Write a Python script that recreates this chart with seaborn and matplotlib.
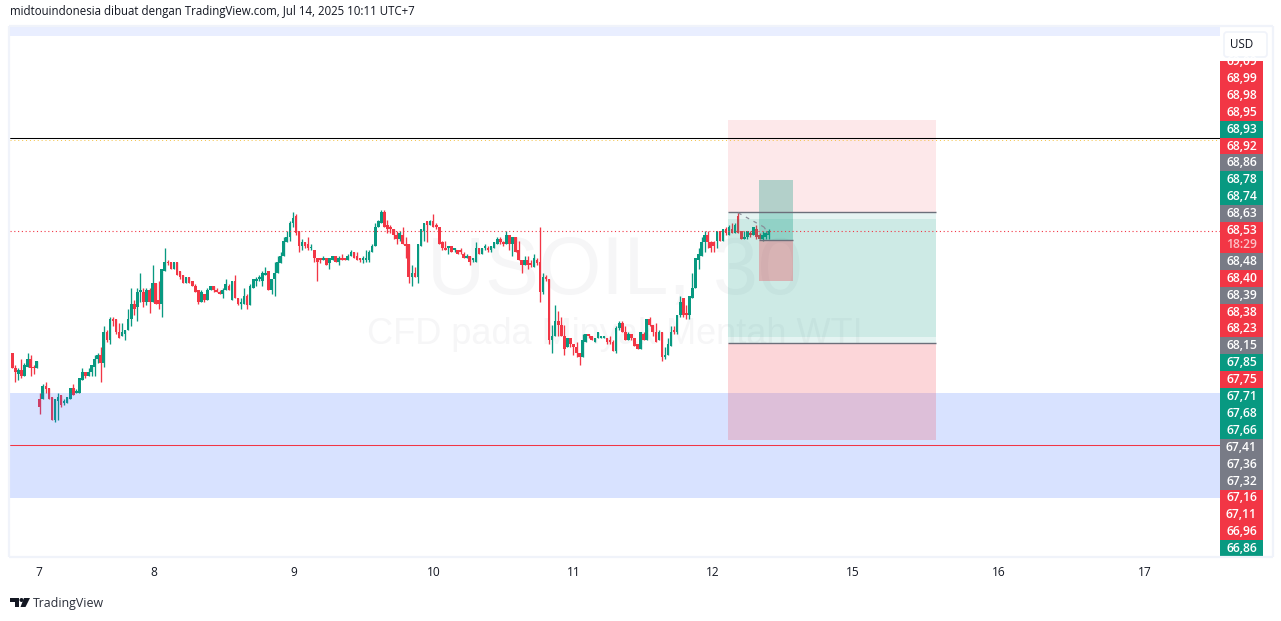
import numpy as np
import matplotlib
matplotlib.use('Agg')
import matplotlib.pyplot as plt
from matplotlib.patches import Rectangle, Polygon, FancyBboxPatch
import seaborn as sns

# ── Data: USOIL 30m candles ────────────────────────────────────────────────────
opens = [
    67.89, 67.81, 67.78, 67.80, 67.77, 67.82, 67.86, 67.82, 67.81, 67.65,
    67.65, 67.72, 67.71, 67.66, 67.54, 67.64, 67.67, 67.63, 67.63, 67.65,
    67.71, 67.68, 67.68, 67.75, 67.79, 67.77, 67.79, 67.82, 67.86, 67.88,
    67.84, 68.00, 67.96, 68.07, 68.07, 68.00, 67.98, 67.99, 68.01, 68.07,
    68.15, 68.13, 68.21, 68.21, 68.16, 68.22, 68.16, 68.26, 68.17, 68.15,
    68.32, 68.37, 68.37, 68.33, 68.37, 68.32, 68.30, 68.26, 68.29, 68.27,
    68.24, 68.22, 68.16, 68.20, 68.17, 68.22, 68.24, 68.22, 68.21, 68.20,
    68.22, 68.24, 68.17, 68.27, 68.18, 68.15, 68.15, 68.19, 68.14, 68.23,
    68.27, 68.28, 68.27, 68.30, 68.32, 68.22, 68.28, 68.31, 68.36, 68.40,
    68.47, 68.50, 68.57, 68.61, 68.53, 68.45, 68.47, 68.46, 68.44, 68.43,
    68.39, 68.39, 68.38, 68.39, 68.36, 68.38, 68.40, 68.37, 68.39, 68.39,
    68.38, 68.40, 68.42, 68.40, 68.39, 68.38, 68.38, 68.38, 68.42, 68.45,
    68.55, 68.57, 68.63, 68.56, 68.55, 68.54, 68.51, 68.49, 68.51, 68.46,
    68.46, 68.29, 68.31, 68.29, 68.45, 68.53, 68.58, 68.56, 68.58, 68.56,
    68.55, 68.47, 68.44, 68.44, 68.45, 68.43, 68.43, 68.43, 68.41, 68.39,
    68.40, 68.38, 68.37, 68.44, 68.41, 68.44, 68.44, 68.43, 68.44, 68.46,
    68.49, 68.47, 68.46, 68.51, 68.46, 68.50, 68.43, 68.38, 68.35, 68.38,
    68.36, 68.34, 68.38, 68.37, 68.21, 68.29, 68.28, 67.96, 67.98, 68.06,
    68.04, 67.98, 67.92, 67.97, 67.94, 67.92, 67.89, 67.87, 67.95, 67.99,
    67.98, 67.95, 67.97, 67.97, 67.97, 67.97, 67.96, 67.95, 67.90, 68.02,
    68.05, 68.00, 67.96, 67.99, 67.97, 67.94, 67.91, 67.99, 67.96, 68.07,
    68.04, 68.00, 67.96, 68.00, 67.87, 67.88, 67.93, 68.01, 68.00, 68.09,
    68.18, 68.10, 68.09, 68.18, 68.23, 68.38, 68.40, 68.47, 68.51, 68.47,
    68.47, 68.48, 68.53, 68.48, 68.54, 68.51, 68.54, 68.52, 68.61, 68.53,
    68.49, 68.50, 68.52, 68.51, 68.54, 68.51, 68.49, 68.50, 68.51,
]
highs = [
    67.89, 67.83, 67.81, 67.86, 67.84, 67.89, 67.88, 67.83, 67.85, 67.68,
    67.73, 67.74, 67.71, 67.66, 67.65, 67.68, 67.67, 67.65, 67.66, 67.71,
    67.73, 67.70, 67.76, 67.81, 67.79, 67.81, 67.83, 67.88, 67.89, 67.92,
    68.03, 68.01, 68.08, 68.08, 68.07, 68.05, 68.05, 68.01, 68.12, 68.23,
    68.17, 68.23, 68.31, 68.23, 68.23, 68.23, 68.35, 68.26, 68.27, 68.33,
    68.44, 68.38, 68.37, 68.37, 68.37, 68.32, 68.30, 68.29, 68.29, 68.27,
    68.25, 68.22, 68.22, 68.20, 68.23, 68.24, 68.24, 68.23, 68.22, 68.23,
    68.28, 68.25, 68.27, 68.30, 68.18, 68.18, 68.23, 68.20, 68.25, 68.28,
    68.29, 68.30, 68.32, 68.34, 68.32, 68.28, 68.37, 68.40, 68.42, 68.50,
    68.53, 68.58, 68.63, 68.62, 68.53, 68.49, 68.47, 68.50, 68.46, 68.43,
    68.39, 68.39, 68.40, 68.39, 68.39, 68.40, 68.40, 68.40, 68.41, 68.39,
    68.41, 68.43, 68.42, 68.42, 68.39, 68.40, 68.43, 68.43, 68.46, 68.57,
    68.59, 68.64, 68.64, 68.59, 68.56, 68.54, 68.53, 68.53, 68.55, 68.50,
    68.46, 68.35, 68.34, 68.46, 68.54, 68.57, 68.58, 68.59, 68.62, 68.57,
    68.55, 68.48, 68.48, 68.45, 68.45, 68.44, 68.43, 68.44, 68.42, 68.41,
    68.40, 68.39, 68.47, 68.44, 68.44, 68.46, 68.45, 68.45, 68.47, 68.50,
    68.50, 68.48, 68.53, 68.51, 68.50, 68.50, 68.48, 68.38, 68.40, 68.40,
    68.38, 68.41, 68.39, 68.55, 68.31, 68.30, 68.28, 68.04, 68.14, 68.11,
    68.08, 68.04, 67.97, 67.97, 67.94, 67.95, 67.89, 67.99, 67.99, 67.99,
    67.98, 67.97, 68.00, 67.98, 67.98, 67.97, 67.98, 67.96, 68.03, 68.06,
    68.06, 68.03, 68.00, 67.99, 67.97, 67.94, 68.00, 68.00, 68.07, 68.08,
    68.04, 68.05, 68.01, 68.00, 67.92, 67.97, 68.03, 68.03, 68.09, 68.19,
    68.18, 68.14, 68.19, 68.31, 68.39, 68.44, 68.50, 68.53, 68.53, 68.48,
    68.48, 68.53, 68.53, 68.54, 68.55, 68.56, 68.57, 68.57, 68.63, 68.53,
    68.53, 68.53, 68.53, 68.55, 68.56, 68.52, 68.53, 68.53, 68.54,
]
lows = [
    67.81, 67.74, 67.75, 67.76, 67.77, 67.82, 67.77, 67.78, 67.81, 67.57,
    67.65, 67.68, 67.65, 67.54, 67.53, 67.54, 67.61, 67.62, 67.63, 67.65,
    67.67, 67.68, 67.68, 67.75, 67.76, 67.77, 67.77, 67.77, 67.84, 67.74,
    67.82, 67.95, 67.94, 68.03, 67.99, 67.97, 67.98, 67.96, 68.01, 68.03,
    68.09, 68.06, 68.16, 68.13, 68.14, 68.10, 68.16, 68.15, 68.12, 68.08,
    68.32, 68.35, 68.33, 68.33, 68.30, 68.28, 68.26, 68.26, 68.26, 68.24,
    68.21, 68.15, 68.16, 68.16, 68.17, 68.22, 68.21, 68.21, 68.20, 68.18,
    68.22, 68.22, 68.17, 68.18, 68.14, 68.12, 68.15, 68.12, 68.14, 68.23,
    68.24, 68.27, 68.24, 68.30, 68.22, 68.20, 68.19, 68.31, 68.36, 68.40,
    68.47, 68.48, 68.55, 68.51, 68.42, 68.43, 68.44, 68.43, 68.43, 68.37,
    68.27, 68.36, 68.38, 68.35, 68.33, 68.38, 68.37, 68.35, 68.38, 68.38,
    68.38, 68.40, 68.39, 68.38, 68.37, 68.36, 68.37, 68.37, 68.42, 68.45,
    68.55, 68.57, 68.55, 68.52, 68.52, 68.49, 68.46, 68.48, 68.46, 68.39,
    68.26, 68.24, 68.29, 68.26, 68.45, 68.48, 68.47, 68.56, 68.55, 68.54,
    68.46, 68.43, 68.43, 68.41, 68.42, 68.42, 68.41, 68.41, 68.39, 68.39,
    68.35, 68.37, 68.37, 68.41, 68.41, 68.43, 68.42, 68.42, 68.44, 68.46,
    68.46, 68.45, 68.46, 68.43, 68.40, 68.42, 68.38, 68.31, 68.35, 68.33,
    68.34, 68.34, 68.35, 68.16, 68.20, 68.27, 67.94, 67.89, 67.98, 67.98,
    67.98, 67.88, 67.92, 67.92, 67.88, 67.87, 67.83, 67.87, 67.95, 67.97,
    67.96, 67.95, 67.97, 67.97, 67.97, 67.94, 67.94, 67.90, 67.89, 68.01,
    68.00, 67.96, 67.96, 67.96, 67.93, 67.91, 67.91, 67.96, 67.96, 68.03,
    67.98, 67.95, 67.96, 67.85, 67.86, 67.88, 67.93, 67.99, 67.99, 68.08,
    68.08, 68.07, 68.07, 68.18, 68.23, 68.33, 68.40, 68.42, 68.44, 68.42,
    68.42, 68.44, 68.48, 68.48, 68.51, 68.51, 68.52, 68.52, 68.52, 68.49,
    68.49, 68.49, 68.50, 68.51, 68.49, 68.49, 68.48, 68.49, 68.49,
]
closes = [
    67.81, 67.79, 67.80, 67.77, 67.83, 67.86, 67.81, 67.81, 67.85, 67.61,
    67.72, 67.70, 67.65, 67.54, 67.65, 67.66, 67.62, 67.64, 67.66, 67.71,
    67.67, 67.69, 67.76, 67.79, 67.77, 67.79, 67.83, 67.86, 67.88, 67.84,
    68.00, 67.96, 68.07, 68.06, 68.00, 67.97, 68.00, 68.01, 68.07, 68.15,
    68.12, 68.21, 68.22, 68.16, 68.22, 68.16, 68.26, 68.15, 68.15, 68.33,
    68.37, 68.36, 68.33, 68.37, 68.30, 68.29, 68.26, 68.29, 68.26, 68.24,
    68.21, 68.16, 68.21, 68.17, 68.22, 68.24, 68.22, 68.21, 68.20, 68.22,
    68.25, 68.22, 68.27, 68.18, 68.15, 68.16, 68.19, 68.14, 68.24, 68.28,
    68.28, 68.28, 68.31, 68.31, 68.22, 68.28, 68.31, 68.37, 68.40, 68.48,
    68.50, 68.57, 68.60, 68.52, 68.45, 68.47, 68.45, 68.44, 68.44, 68.39,
    68.37, 68.38, 68.39, 68.35, 68.39, 68.40, 68.37, 68.39, 68.38, 68.38,
    68.40, 68.42, 68.39, 68.38, 68.38, 68.39, 68.39, 68.42, 68.45, 68.55,
    68.58, 68.63, 68.55, 68.54, 68.54, 68.51, 68.49, 68.52, 68.46, 68.45,
    68.29, 68.31, 68.29, 68.46, 68.54, 68.57, 68.56, 68.58, 68.55, 68.55,
    68.46, 68.44, 68.43, 68.45, 68.42, 68.44, 68.41, 68.42, 68.39, 68.40,
    68.37, 68.38, 68.44, 68.41, 68.44, 68.45, 68.43, 68.45, 68.47, 68.49,
    68.47, 68.46, 68.51, 68.46, 68.50, 68.42, 68.38, 68.35, 68.38, 68.35,
    68.35, 68.39, 68.36, 68.21, 68.29, 68.28, 67.96, 67.98, 68.06, 68.04,
    67.98, 67.91, 67.97, 67.94, 67.92, 67.89, 67.87, 67.96, 67.99, 67.98,
    67.96, 67.97, 68.00, 67.98, 67.98, 67.95, 67.95, 67.90, 68.02, 68.05,
    68.00, 67.96, 67.99, 67.97, 67.93, 67.91, 68.00, 67.96, 68.07, 68.04,
    68.00, 67.95, 68.00, 67.87, 67.88, 67.94, 68.00, 68.00, 68.09, 68.16,
    68.09, 68.09, 68.19, 68.23, 68.39, 68.41, 68.47, 68.51, 68.47, 68.44,
    68.45, 68.53, 68.48, 68.54, 68.52, 68.55, 68.52, 68.56, 68.52, 68.49,
    68.50, 68.53, 68.51, 68.55, 68.50, 68.49, 68.51, 68.52, 68.53,
]

# tick labels on the time axis and where they sit (candle index)
day_labels = ['7', '8', '9', '10', '11', '12', '15', '16', '17']
day_ticks = [8.75, 46.5, 92.4, 138.3, 184.2, 229.8, 275.7, 323.5, 371.4]

# stacked price badges on the right, top to bottom
badge_text = ['69,09', '68,99', '68,98', '68,95', '68,93', '68,92', '68,86', '68,78', '68,74', '68,63',
              '68,53', '68,48', '68,40', '68,39', '68,38', '68,23', '68,15', '67,85', '67,75', '67,71',
              '67,68', '67,66', '67,41', '67,36', '67,32', '67,16', '67,11', '66,96', '66,86']
badge_kind = ['r', 'r', 'r', 'r', 'g', 'r', 'n', 'g', 'g', 'n',
              'r', 'n', 'r', 'n', 'r', 'r', 'n', 'g', 'r', 'g',
              'g', 'g', 'n', 'n', 'n', 'r', 'r', 'r', 'g']

# drawing levels in price
last_price = 68.53
resistance = 69.017
support = 67.41
zone_low, zone_high = 67.132, 67.682

UP, DOWN, NEUTRAL = '#089981', '#f23645', '#787b86'
INK = '#131722'
FRAME = '#f0f3fa'
W, H = 1281, 621

# ── Style ──────────────────────────────────────────────────────────────────────
sns.set_theme(style='white')
plt.rcParams['font.family'] = ['Open Sans', 'DejaVu Sans']

fig = plt.figure(figsize=(W / 100, H / 100), dpi=100, facecolor='white')
ax = fig.add_axes([10 / W, (H - 556) / H, 1210 / W, 529 / H])

# ── Candles ────────────────────────────────────────────────────────────────────
o, h, l, c = map(np.array, (opens, highs, lows, closes))
idx = np.arange(len(o))
is_down = c < o
ax.vlines(idx[~is_down], l[~is_down], h[~is_down], color=UP, lw=0.95, zorder=2)
ax.vlines(idx[is_down], l[is_down], h[is_down], color=DOWN, lw=0.95, zorder=2)

for mask, col in ((~is_down, UP), (is_down, DOWN)):
    body = np.maximum(np.abs(c - o)[mask], 0.008)
    sns.barplot(x=idx[mask], y=body, bottom=np.minimum(o, c)[mask], native_scale=True,
                color=col, saturation=1, width=0.85, errorbar=None, linewidth=0,
                zorder=3, ax=ax)

ax.set_xlim(-0.75, 395.97)
ax.set_ylim(66.828, 69.598)
ax.set_xlabel('')
ax.set_ylabel('')
ax.set_yticks([])
ax.set_xticks(day_ticks)
ax.set_xticklabels(day_labels, fontsize=8.6, color=INK, fontweight='medium')
ax.tick_params(axis='x', length=0, pad=7)
for s in ax.spines.values():
    s.set_visible(False)

# ── Watermark ──────────────────────────────────────────────────────────────────
ax.text(0.5, 0.535, 'USOIL, 30', transform=ax.transAxes, ha='center', va='center',
        fontsize=58, color='#f6f6f7', family='Liberation Sans', zorder=1)
ax.text(0.5, 0.418, 'CFD pada Minyak Mentah WTI', transform=ax.transAxes, ha='center', va='center',
        fontsize=26, color='#f6f6f7', family='Liberation Sans', zorder=1)

# ── Drawings ───────────────────────────────────────────────────────────────────
def box(x0, x1, y0, y1, col, alpha):
    ax.add_patch(Rectangle((x0, y0), x1 - x0, y1 - y0, facecolor=col, alpha=alpha, lw=0, zorder=4))

ax.axhspan(zone_low, zone_high, color='#2962ff', alpha=0.18, lw=0, zorder=4)
ax.axhspan(69.551, 69.598, color='#2962ff', alpha=0.10, lw=0, zorder=4)
ax.axhline(support, color=DOWN, lw=0.75, zorder=5)
ax.axhline(resistance, color='black', lw=0.75, zorder=5)
ax.axhline(resistance - 0.01, color='#f5c242', lw=0.7, ls=(0, (1, 3)), zorder=5)
ax.axhline(last_price, color=DOWN, lw=0.8, ls=(0, (1, 2.4)), zorder=5)

# big position tool
box(234.66, 302.9, 68.629, 69.111, DOWN, 0.11)
box(234.66, 302.9, 68.593, 68.629, UP, 0.10)
box(234.66, 302.9, 67.975, 68.593, UP, 0.20)
box(234.66, 302.9, 67.944, 67.975, UP, 0.10)
box(234.66, 302.9, 67.436, 67.944, DOWN, 0.20)
ax.hlines([68.629, 67.944], 234.66, 302.9, color='#6b6f7a', lw=1.0, zorder=5)

# small position tool
box(244.8, 256, 68.483, 68.797, UP, 0.30)
box(244.8, 256, 68.268, 68.483, DOWN, 0.30)
ax.hlines(68.483, 244.8, 256, color='#6b6f7a', lw=1.0, zorder=5)

# dashed projection over the last candles
ax.plot([238, 246.5], [68.625, 68.55], color='#8a8e99', lw=0.9, ls=(0, (3, 4)), zorder=5)
ax.plot([246.5, 248], [68.55, 68.51], color='#8a8e99', lw=0.9, ls=(0, (2, 2)), zorder=5)

# ── Chrome in pixel space ──────────────────────────────────────────────────────
ui = fig.add_axes([0, 0, 1, 1], facecolor='none', zorder=5)
ui.set_xlim(0, W)
ui.set_ylim(H, 0)
ui.axis('off')

# frame of the chart
for x0, y0, x1, y1 in [(8.5, 26, 1272.5, 26), (1272.5, 26, 1272.5, 557),
                       (8.5, 557, 1272.5, 557), (8.5, 26, 8.5, 557)]:
    ui.plot([x0, x1], [y0, y1], color=FRAME, lw=1.6, solid_capstyle='butt')

# price badges
row = 16.9
top = 61.5
kind_col = {'r': DOWN, 'g': UP, 'n': NEUTRAL}
offset = 0
for i, (txt, k) in enumerate(zip(badge_text, badge_kind)):
    yc = top + i * row + offset
    bh = row
    if txt == '68,53':
        bh = row + 14  # countdown sits in the same badge
    ui.add_patch(Rectangle((1220, yc - row / 2), 43, bh, facecolor=kind_col[k], lw=0))
    ui.text(1241.5, yc, txt, color='white', fontsize=8.7, ha='center', va='center', fontweight='semibold')
    if txt == '68,53':
        ui.text(1241.5, yc + 14, '18:29', color='#fbc1c6', fontsize=8.7, ha='center', va='center',
                fontweight='semibold')
        offset = 14

# USD button hides the clipped top badge
ui.add_patch(Rectangle((1220, 27), 50, 34, facecolor='white', lw=0))
ui.add_patch(FancyBboxPatch((1224, 32), 43, 25, boxstyle='round,pad=0,rounding_size=3',
                            facecolor='white', edgecolor=FRAME, lw=1.2))
ui.text(1242, 45, 'USD', color=INK, fontsize=8.4, ha='center', va='center')

# header and logo
ui.text(10, 12, 'midtouindonesia dibuat dengan TradingView.com, Jul 14, 2025 10:11 UTC+7',
        color=INK, fontsize=8.3, ha='left', va='center')
ui.add_patch(Polygon([(10, 598), (19, 598), (19, 607), (15, 607), (15, 602), (10, 602)], facecolor=INK, lw=0))
ui.add_patch(plt.Circle((21.5, 600), 2, facecolor=INK, lw=0))
ui.add_patch(Polygon([(24, 598), (30, 598), (25.5, 607), (20.5, 607)], facecolor=INK, lw=0))
ui.text(33, 603, 'TradingView', color='#2a2e39', fontsize=8.9, ha='left', va='center')

plt.savefig('out.png', dpi=100)
plt.close()
